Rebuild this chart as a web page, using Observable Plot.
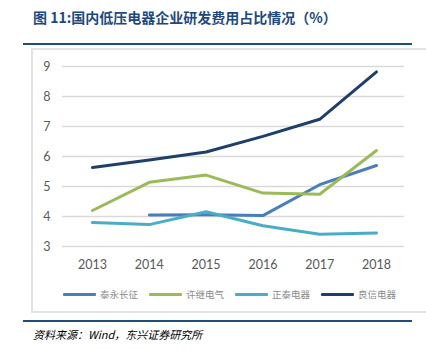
<!DOCTYPE html>
<html>
<head>
<meta charset="utf-8">
<script src="https://cdn.jsdelivr.net/npm/d3@7"></script>
<script src="https://cdn.jsdelivr.net/npm/@observablehq/plot@0.6"></script>
<style>
  html, body { margin: 0; padding: 0; background: #fff; }
  body { width: 426px; height: 350px; position: relative; overflow: hidden; font-family: "Noto Sans CJK SC", sans-serif; }
  #title { position: absolute; left: 33px; top: 8px; font-size: 14px; font-weight: bold; color: #1F497D; white-space: nowrap; line-height: 18px; }
  .rule { position: absolute; left: 23px; width: 389px; height: 2px; background: #1F4E79; }
  #box { position: absolute; left: 31px; top: 48px; width: 395px; height: 265px; border-left: 2px solid #E3E3E3; border-top: 2px solid #E3E3E3; border-bottom: 2px solid #E3E3E3; box-sizing: border-box; }
  #chart { position: absolute; left: 0; top: 49px; }
  #legend { position: absolute; top: 286px; left: 0; width: 426px; height: 16px; }
  .item { position: absolute; top: 0; height: 16px; display: flex; align-items: center; font-size: 9.5px; color: #8C8C8C; white-space: nowrap; }
  .swatch { display: inline-block; width: 33px; height: 3px; margin-right: 4px; border-radius: 1px; }
  #source { position: absolute; left: 33px; top: 326px; font-size: 11px; font-style: italic; color: #000; white-space: nowrap; line-height: 16px; }
</style>
</head>
<body>
<div id="title">图 11:国内低压电器企业研发费用占比情况（%）</div>
<div class="rule" style="top:42.5px"></div>
<div id="box"></div>
<div id="chart"></div>
<div id="legend"></div>
<div class="rule" style="top:320px"></div>
<div id="source">资料来源：Wind，东兴证券研究所</div>
<script>
const years = [2013, 2014, 2015, 2016, 2017, 2018];
const seriesNames = ["泰永长征", "许继电气", "正泰电器", "良信电器"];
const taiyong = [null, 4.05, 4.06, 4.03, 5.06, 5.70];
const xuji = [4.20, 5.14, 5.38, 4.78, 4.74, 6.20];
const zhengtai = [3.80, 3.73, 4.16, 3.69, 3.41, 3.45];
const liangxin = [5.63, 5.88, 6.15, 6.67, 7.24, 8.82];
const yTicks = [3, 4, 5, 6, 7, 8, 9];
const colors = ["#4A7EBB", "#9BBB59", "#4BACC6", "#1F3F6A"];

const allSeries = [taiyong, xuji, zhengtai, liangxin];
const rows = [];
allSeries.forEach((vals, i) => {
  vals.forEach((v, j) => {
    if (v !== null) rows.push({ series: seriesNames[i], year: years[j], value: v });
  });
});

const chart = Plot.plot({
  width: 426,
  height: 227,
  marginTop: 17,
  marginBottom: 30,
  marginLeft: 62,
  marginRight: 22,
  style: { fontFamily: "Lato, 'Liberation Sans', sans-serif", fontSize: "12.5px", color: "#595959", background: "transparent" },
  x: { domain: [2012.472, 2018.493], label: null },
  y: { domain: [3, 9], label: null },
  color: { domain: seriesNames, range: colors },
  marks: [
    Plot.ruleY(yTicks, { stroke: "#D9D9D9", strokeWidth: 1.3 }),
    Plot.axisY({ ticks: yTicks, tickFormat: "d", tickSize: 0, tickPadding: 12, label: null, fill: "#595959" }),
    Plot.axisX({ ticks: years, tickFormat: "d", tickSize: 0, tickPadding: 14, label: null, fill: "#595959" }),
    Plot.line(rows, { x: "year", y: "value", z: "series", stroke: "series", strokeWidth: 3, strokeLinejoin: "round", strokeLinecap: "round" })
  ]
});
document.getElementById("chart").appendChild(chart);

const legendX = [63, 149, 235, 321];
const legend = document.getElementById("legend");
seriesNames.forEach((name, i) => {
  const item = document.createElement("div");
  item.className = "item";
  item.style.left = legendX[i] + "px";
  const sw = document.createElement("span");
  sw.className = "swatch";
  sw.style.background = colors[i];
  item.appendChild(sw);
  item.appendChild(document.createTextNode(name));
  legend.appendChild(item);
});
</script>
</body>
</html>
